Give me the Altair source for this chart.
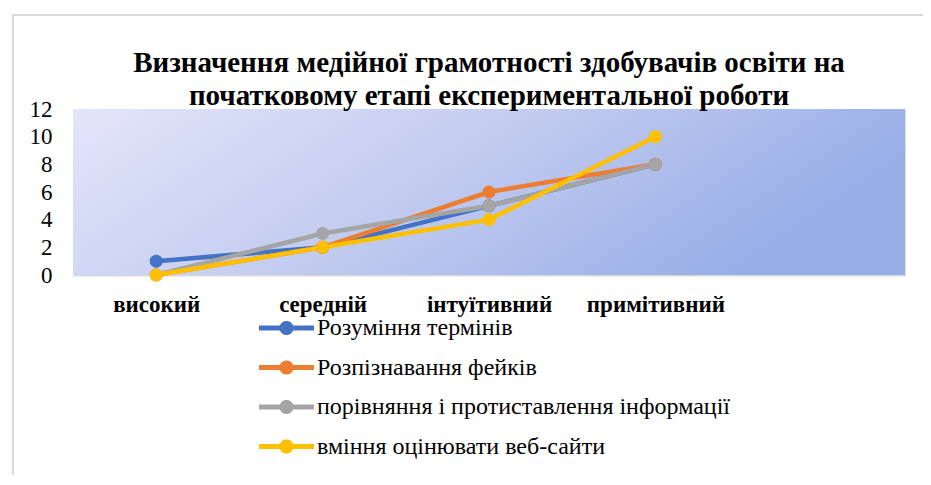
import math
import altair as alt
import pandas as pd

categories = ["високий", "середній", "інтуїтивний", "примітивний"]
series_names = [
    "Розуміння термінів",
    "Розпізнавання фейків",
    "порівняння і протиставлення інформації",
    "вміння оцінювати веб-сайти",
]
s1 = [1, 2, 5, 8]
s2 = [0, 2, 6, 8]
s3 = [0, 3, 5, 8]
s4 = [0, 2, 4, 10]
colors = ["#4472C4", "#ED7D31", "#A5A5A5", "#FFC000"]

rows = []
for name, vals in zip(series_names, [s1, s2, s3, s4]):
    for c, v in zip(categories, vals):
        rows.append({"cat": c, "value": v, "series": name})
df = pd.DataFrame(rows)

W, H = 832, 166
FONT = "Liberation Serif, Times New Roman, serif"

xscale = alt.Scale(domain=categories + [" "], padding=0.5)
yscale = alt.Scale(domain=[0, 12])
cscale = alt.Scale(domain=series_names, range=colors)

# legend symbol: thick line with a dot in the middle (polygon outline)
R, T = 0.64, 0.23
a0 = math.asin(T / R)
pts = [(-2.5, -T), (-R * math.cos(a0), -T)]
n = 24
start, end = math.pi - a0, a0
for i in range(1, n):
    ang = start + (end - start) * i / n
    pts.append((R * math.cos(ang), -R * math.sin(ang)))
pts += [(R * math.cos(a0), -T), (2.5, -T), (2.5, T), (R * math.cos(a0), T)]
start2, end2 = -a0, -(math.pi - a0)
for i in range(1, n):
    ang = start2 + (end2 - start2) * i / n
    pts.append((R * math.cos(ang), -R * math.sin(ang)))
pts += [(-R * math.cos(a0), T), (-2.5, T)]
sym = "M " + " L ".join(f"{x:.3f} {y:.3f}" for x, y in pts) + " Z"

legend = alt.Legend(title=None, orient="none", legendX=201.5, legendY=207,
                    direction="vertical", symbolType=sym, symbolSize=484,
                    symbolStrokeWidth=0, symbolOpacity=1,
                    labelFont=FONT, labelFontSize=24, labelColor="black",
                    labelOffset=18.5, rowPadding=15.5, labelLimit=600)

grad = alt.LinearGradient(
    gradient="linear",
    stops=[
        alt.GradientStop(color="#e3e5f9", offset=0),
        alt.GradientStop(color="#c3ccf0", offset=0.5),
        alt.GradientStop(color="#98aee7", offset=1),
    ],
    x1=0, y1=0, x2=1, y2=0.3,
)

one = pd.DataFrame({"a": [0]})
frame = alt.Chart(one).mark_rect(fill=None, stroke="#d9d9d9", strokeWidth=2).encode(
    x=alt.value(-60), x2=alt.value(W + 100), y=alt.value(-94), y2=alt.value(H + 300)
)
bg = alt.Chart(one).mark_rect(color=grad).encode(
    x=alt.value(0), x2=alt.value("width"), y=alt.value(0), y2=alt.value("height")
)

base = alt.Chart(df).encode(
    x=alt.X("cat:N", scale=xscale, sort=None,
            axis=alt.Axis(title=None, labelAngle=0, labelFont=FONT, labelFontWeight="bold",
                          labelFontSize=23, labelColor="black", labelPadding=18, ticks=False,
                          domainColor="#d9d9d9", domainWidth=2, grid=False)),
    y=alt.Y("value:Q", scale=yscale,
            axis=alt.Axis(title=None, values=[0, 2, 4, 6, 8, 10, 12], labelFont=FONT,
                          labelFontSize=23, labelColor="black", labelPadding=21,
                          ticks=False, domain=False, grid=False)),
    color=alt.Color("series:N", scale=cscale, sort=series_names, legend=legend),
)

lines = base.mark_line(strokeWidth=4.5)
points = base.mark_point(filled=True, size=170, opacity=1)

chart = alt.layer(frame, bg, lines, points).properties(
    width=W, height=H,
    title=alt.TitleParams(
        ["Визначення медійної грамотності здобувачів освіти на",
         "початковому етапі експериментальної роботи"],
        font=FONT, fontSize=29, fontWeight="bold", color="black",
        anchor="middle", lineHeight=33, offset=2, frame="group", dy=99,
    ),
    autosize=alt.AutoSizeParams(type="none"),
    padding={"left": 65, "top": 101, "right": 18, "bottom": 200},
).configure_view(stroke=None).configure(background="white")

chart.save("out.html", embed_options={"renderer": "svg", "actions": False})
